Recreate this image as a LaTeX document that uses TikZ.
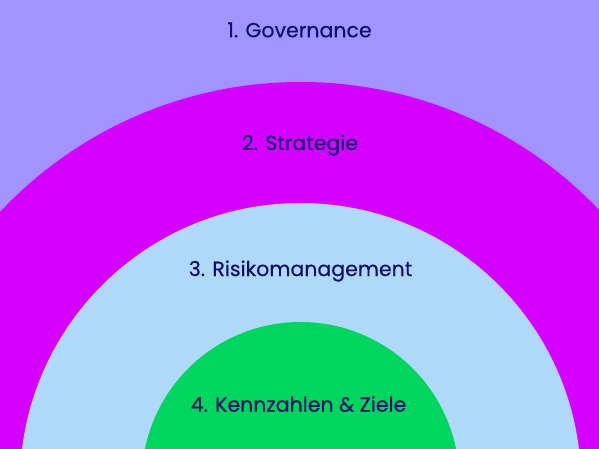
\documentclass[tikz,border=0pt]{standalone}
\usepackage{fontspec}
\setmainfont{Poppins}
\newfontfamily\lblfont{Poppins}[FakeBold=0.35]
\definecolor{bgc}{HTML}{A294FF}
\definecolor{magc}{HTML}{D500FF}
\definecolor{bluec}{HTML}{AED9F8}
\definecolor{greenc}{HTML}{00D65E}
\definecolor{txtc}{HTML}{10106A}
\begin{document}
\begin{tikzpicture}[x=1pt,y=-1pt,
  lbl/.style={text=txtc,font=\lblfont\fontsize{20.5}{24}\selectfont,anchor=center,inner sep=0pt}]
\clip (0,0) rectangle (599,449);
\useasboundingbox (0,0) rectangle (599,449);
\fill[bgc] (0,0) rectangle (599,449);
\fill[magc] (300.5,494.3) circle[radius=412.3];
\fill[bluec] (300.5,483.6) circle[radius=280.6];
\fill[greenc] (300.5,480.7) circle[radius=158.7];
\node[lbl] (l1) at (299.5,30) {1. Governance};
\node[lbl] (l2) at (300,145) {2. Strategie};
\node[lbl] (l3) at (300.5,271) {3. Risikomanagement};
\node[lbl] (l4) at (298.5,404) {4. Kennzahlen \& Ziele};
\end{tikzpicture}
\end{document}
